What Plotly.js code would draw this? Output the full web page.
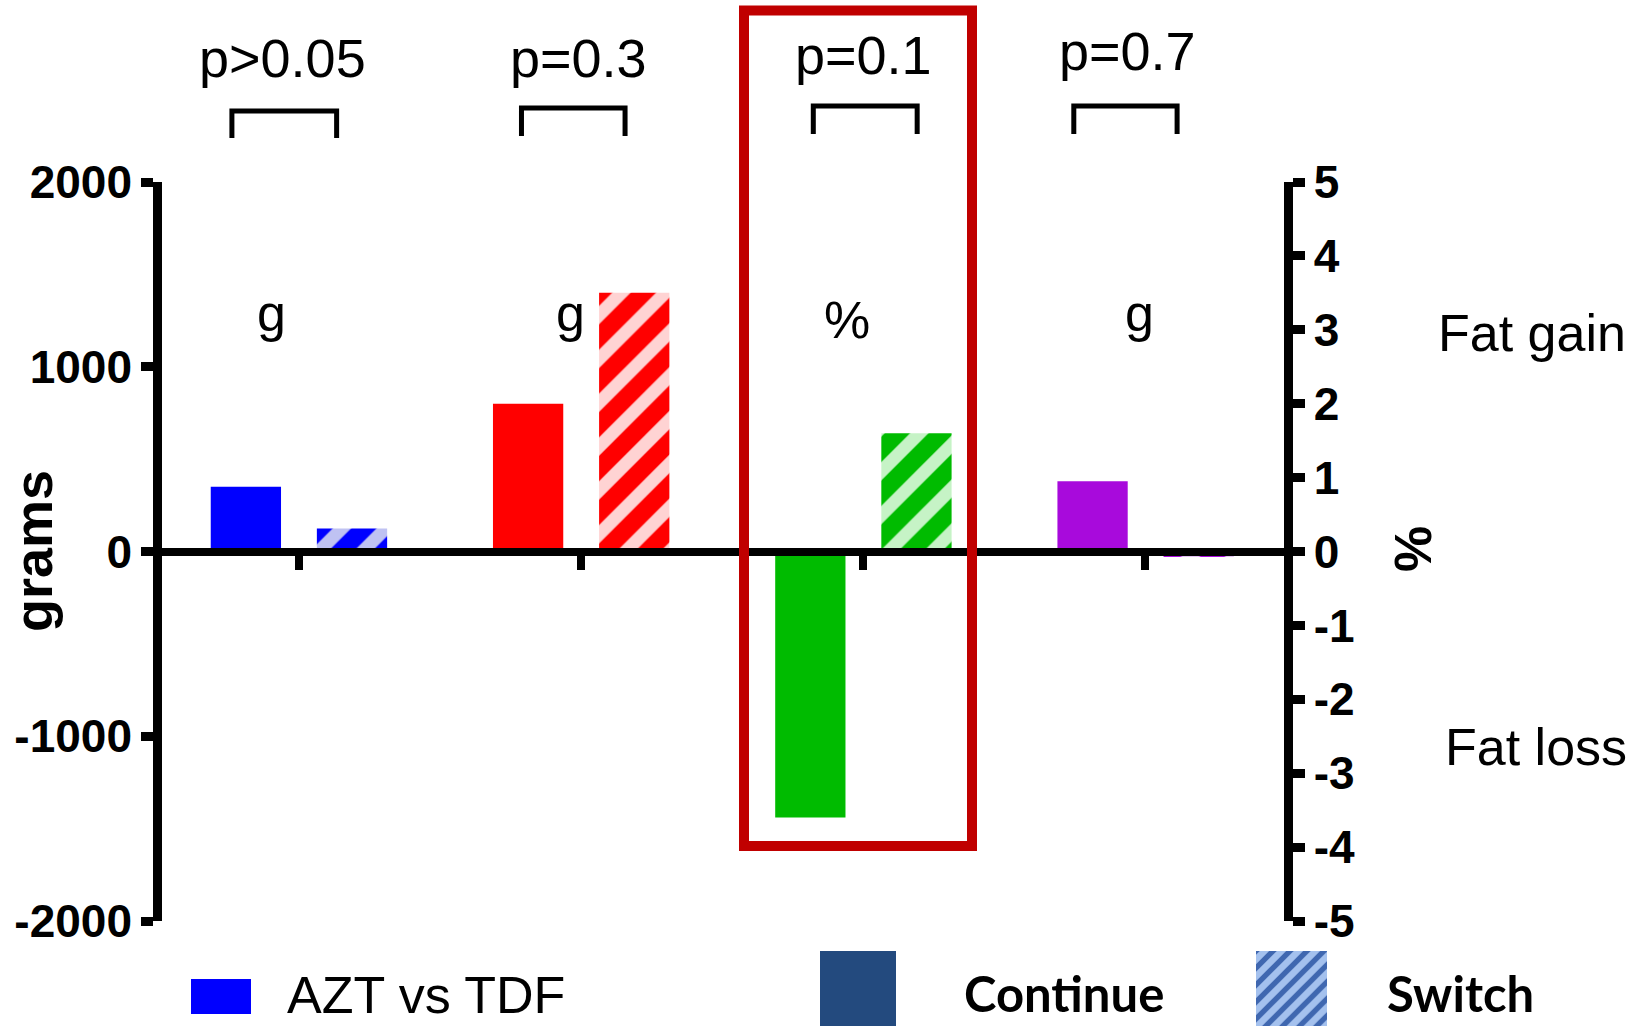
<!DOCTYPE html>
<html><head><meta charset="utf-8">
<script src="https://cdn.plot.ly/plotly-3.0.1.min.js"></script>
<style>html,body{margin:0;padding:0;background:#fff;}#chart{width:1639px;height:1026px;}</style>
</head><body><div id="chart"></div>
<script>
// ---------- data ----------
const groupPos = [0, 1, 2, 3];
const pLabels = ['p>0.05', 'p=0.3', 'p=0.1', 'p=0.7'];
const unitLabels = ['g', 'g', '%', 'g'];
const continueValues = [350, 800, -3.6, 380];   // grams, grams, %, grams
const switchValues = [125, 1400, 1.6, -30];     // grams, grams, %, grams
const gramTickVals = [-2000, -1000, 0, 1000, 2000];
const gramTickText = ['-2000', '-1000', '0', '1000', '2000'];
const pctTickVals = [-5, -4, -3, -2, -1, 0, 1, 2, 3, 4, 5];
const pctTickText = ['-5', '-4', '-3', '-2', '-1', '0', '1', '2', '3', '4', '5'];
const legendLabels = ['AZT vs TDF', 'Continue', 'Switch'];
const sideLabels = ['Fat gain', 'Fat loss'];
const axisTitles = ['grams', '%'];

// ---------- styles ----------
const W = 1639, H = 1026;
const px = v => v / W;
const py = v => 1 - v / H;
const groupColors = ['#0000FF', '#FF0000', '#00BB00', '#A80ADC'];
const stripeColors = ['#BFC2F2', '#FFD3D3', '#C6F3C6', '#E3C2F3'];
const ARIAL = 'Liberation Sans, Arial, sans-serif';
const BAR_W = 0.249, OFF_CONT = -0.311, OFF_SW = 0.065;

const traces = [];
groupPos.forEach((g, i) => {
  const yax = unitLabels[i] === '%' ? 'y2' : 'y';
  traces.push({
    type: 'bar', x: [g], y: [continueValues[i]], xaxis: 'x', yaxis: yax,
    offset: OFF_CONT, width: BAR_W,
    marker: {color: groupColors[i], line: {width: 0}},
    hoverinfo: 'skip', showlegend: false, name: legendLabels[1]
  });
  traces.push({
    type: 'bar', x: [g], y: [switchValues[i]], xaxis: 'x', yaxis: yax,
    offset: OFF_SW, width: BAR_W,
    marker: {color: groupColors[i], line: {width: 0},
      pattern: {shape: '/', bgcolor: groupColors[i], fgcolor: stripeColors[i],
                size: 31, solidity: 0.42, fillmode: 'replace'}},
    hoverinfo: 'skip', showlegend: false, name: legendLabels[2]
  });
});
// hatched legend swatch (legend key) on its own hidden axes
traces.push({
  type: 'bar', x: [0], y: [1], width: 1, xaxis: 'x3', yaxis: 'y3',
  marker: {color: '#9FBCEB', line: {width: 0},
    pattern: {shape: '/', bgcolor: '#A4C1EE', fgcolor: '#3F67B0', size: 12, solidity: 0.45, fillmode: 'replace'}},
  hoverinfo: 'skip', showlegend: false
});

const tickFont = {family: ARIAL, size: 46, color: '#000', weight: 'bold'};
const yCommon = {
  showline: true, linewidth: 9, linecolor: '#000', ticks: 'outside', ticklen: 12,
  tickwidth: 9, tickcolor: '#000', showgrid: false, zeroline: false, tickfont: tickFont,
  domain: [py(921), py(182)], fixedrange: true
};

const bracketSpans = [[-0.236, 0.135, 111, 138], [-0.210, 0.157, 108, 136],
                      [-0.176, 0.192, 106, 134], [-0.253, 0.113, 106, 134]];
const shapes = [];
bracketSpans.forEach((b, i) => {
  const x0 = groupPos[i] + b[0], x1 = groupPos[i] + b[1];
  shapes.push({type: 'path', xref: 'x', yref: 'paper',
    path: `M${x0},${py(b[3])} L${x0},${py(b[2])} L${x1},${py(b[2])} L${x1},${py(b[3])}`,
    line: {color: '#000', width: 5}});
});
// highlight box
shapes.push({type: 'rect', xref: 'paper', yref: 'paper', x0: px(744), x1: px(972), y0: py(846), y1: py(10.5),
  line: {color: '#C00000', width: 10}, fillcolor: 'rgba(0,0,0,0)'});
// legend swatches
shapes.push({type: 'rect', xref: 'paper', yref: 'paper', x0: px(191), x1: px(251), y0: py(1014), y1: py(979),
  line: {width: 0}, fillcolor: '#0000FF'});
shapes.push({type: 'rect', xref: 'paper', yref: 'paper', x0: px(820), x1: px(896), y0: py(1026), y1: py(951),
  line: {width: 0}, fillcolor: '#234A7E'});

const ann = [];
const pX = [282, 578, 863, 1127], pY = [58, 58, 55, 51];
pLabels.forEach((t, i) => ann.push({text: t, xref: 'paper', yref: 'paper', x: px(pX[i]), y: py(pY[i]),
  xanchor: 'center', yanchor: 'middle', showarrow: false, font: {family: ARIAL, size: 54, color: '#000'}}));
const uX = [271, 570, 847, 1139], uY = [313, 313, 320, 313];
unitLabels.forEach((t, i) => ann.push({text: t, xref: 'paper', yref: 'paper', x: px(uX[i]), y: py(uY[i]),
  xanchor: 'center', yanchor: 'middle', showarrow: false, font: {family: ARIAL, size: 52, color: '#000'}}));
ann.push({text: sideLabels[0], xref: 'paper', yref: 'paper', x: px(1532), y: py(333), xanchor: 'center', yanchor: 'middle',
  showarrow: false, font: {family: ARIAL, size: 52, color: '#000'}});
ann.push({text: sideLabels[1], xref: 'paper', yref: 'paper', x: px(1536), y: py(747), xanchor: 'center', yanchor: 'middle',
  showarrow: false, font: {family: ARIAL, size: 52, color: '#000'}});
ann.push({text: axisTitles[0], xref: 'paper', yref: 'paper', x: px(33), y: py(551), xanchor: 'center', yanchor: 'middle',
  textangle: -90, showarrow: false, font: {family: ARIAL, size: 54, color: '#000', weight: 'bold'}});
ann.push({text: axisTitles[1], xref: 'paper', yref: 'paper', x: px(1413), y: py(549), xanchor: 'center', yanchor: 'middle',
  textangle: -90, showarrow: false, font: {family: ARIAL, size: 52, color: '#000', weight: 'bold'}});
// legend texts
ann.push({text: legendLabels[0], xref: 'paper', yref: 'paper', x: px(285), y: py(995), xanchor: 'left', yanchor: 'middle',
  showarrow: false, font: {family: ARIAL, size: 52, color: '#000'}});
ann.push({text: legendLabels[1], xref: 'paper', yref: 'paper', x: px(962), y: py(993), xanchor: 'left', yanchor: 'middle',
  showarrow: false, font: {family: 'Lato, sans-serif', size: 49, color: '#000', weight: 'bold'}});
ann.push({text: legendLabels[2], xref: 'paper', yref: 'paper', x: px(1385), y: py(993), xanchor: 'left', yanchor: 'middle',
  showarrow: false, font: {family: 'Lato, sans-serif', size: 49, color: '#000', weight: 'bold'}});

const layout = {
  width: W, height: H, margin: {l: 0, r: 0, t: 0, b: 0, pad: 0},
  paper_bgcolor: '#fff', plot_bgcolor: 'rgba(0,0,0,0)',
  barmode: 'overlay', showlegend: false, hovermode: false,
  xaxis: {domain: [px(162.2), px(1283.5)], range: [-0.483, 3.49], anchor: 'free', position: py(551.5),
    showline: true, linewidth: 8, linecolor: '#000', ticks: 'outside', ticklen: 14, tickwidth: 8, tickcolor: '#000',
    tickvals: groupPos, showticklabels: false, showgrid: false, zeroline: false, fixedrange: true},
  yaxis: Object.assign({}, yCommon, {anchor: 'x', side: 'left', range: [-2000, 2000],
    tickvals: gramTickVals, ticktext: gramTickText}),
  yaxis2: Object.assign({}, yCommon, {anchor: 'x', side: 'right', overlaying: 'y', range: [-5, 5],
    tickvals: pctTickVals, ticktext: pctTickText}),
  xaxis3: {domain: [px(1256), px(1327)], range: [-0.5, 0.5], anchor: 'y3', visible: false, fixedrange: true},
  yaxis3: {domain: [0, py(951)], range: [0, 1], anchor: 'x3', visible: false, fixedrange: true},
  shapes: shapes, annotations: ann
};

Plotly.newPlot('chart', traces, layout, {staticPlot: true, displayModeBar: false});
</script></body></html>
